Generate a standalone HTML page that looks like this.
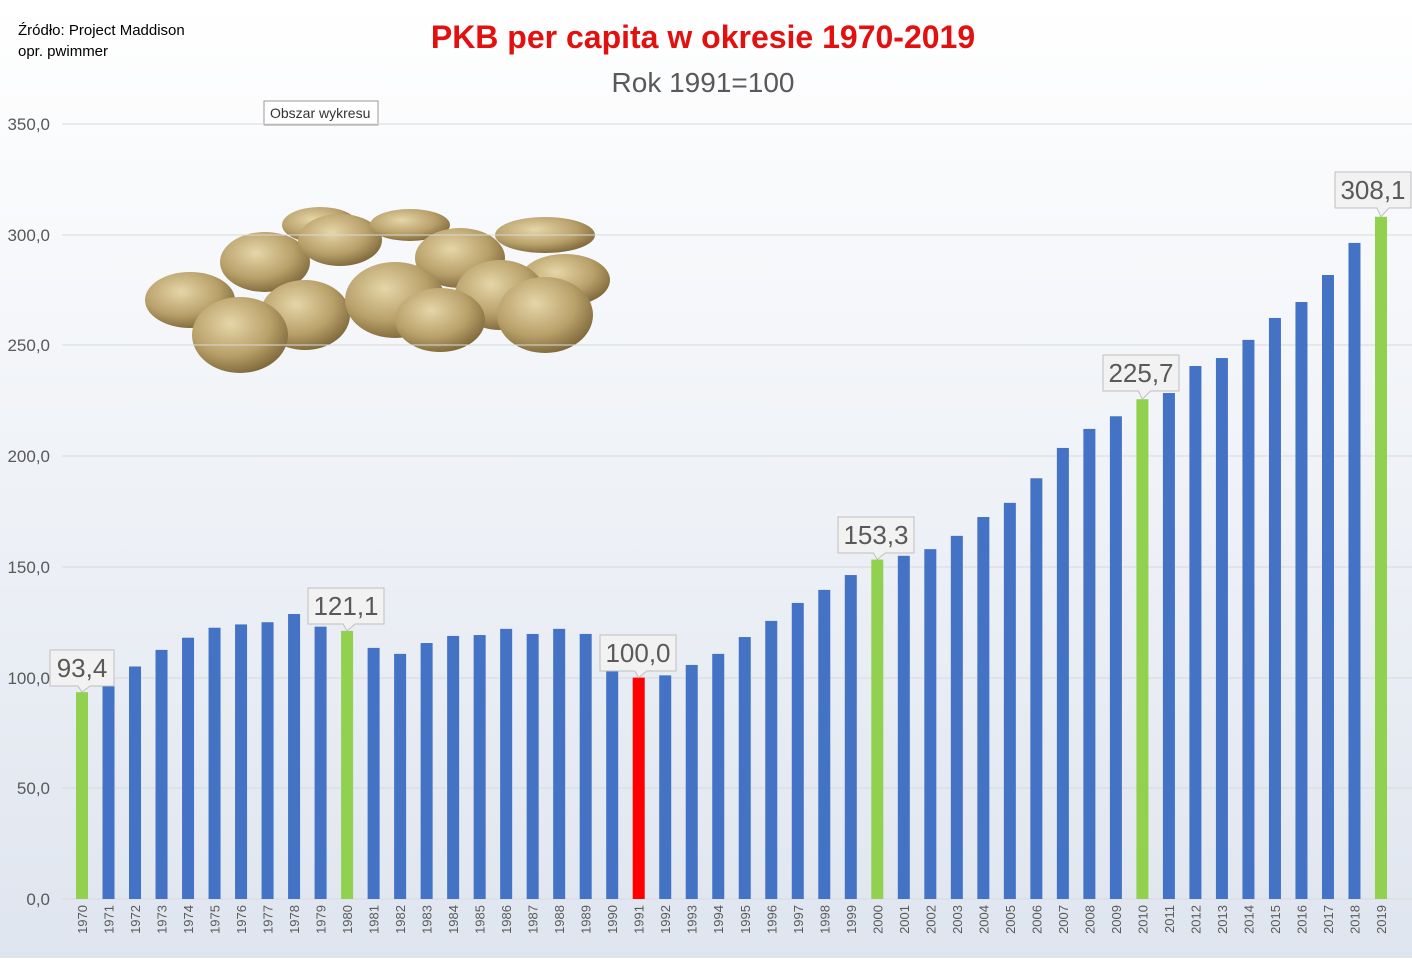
<!DOCTYPE html>
<html><head><meta charset="utf-8"><style>
body{margin:0;width:1412px;height:958px;overflow:hidden;font-family:"Liberation Sans",sans-serif;}
</style></head><body>
<svg width="1412" height="958" xmlns="http://www.w3.org/2000/svg">
<defs>
<linearGradient id="bg" x1="0" y1="0" x2="0" y2="1">
<stop offset="0" stop-color="#ffffff"/><stop offset="1" stop-color="#dfe5ef"/></linearGradient>
<radialGradient id="coin" cx="0.4" cy="0.35" r="0.7">
<stop offset="0" stop-color="#e6d6a8"/><stop offset="0.6" stop-color="#b8a06a"/><stop offset="1" stop-color="#7a6436"/></radialGradient>
</defs>
<rect width="1412" height="958" fill="url(#bg)"/>
<text x="18" y="35" font-size="15" fill="#000">Źródło: Project Maddison</text>
<text x="18" y="56" font-size="15" fill="#000">opr. pwimmer</text>
<text x="703" y="48" font-size="32" font-weight="bold" fill="#e31010" text-anchor="middle">PKB per capita w okresie 1970-2019</text>
<text x="703" y="92" font-size="28" fill="#595959" text-anchor="middle">Rok 1991=100</text>
<rect x="264" y="101" width="114" height="24" fill="#fff" stroke="#999"/>
<text x="270" y="118" font-size="14" fill="#333">Obszar wykresu</text>
<g id="coins">
<ellipse cx="190" cy="300" rx="45" ry="28" fill="url(#coin)"/>
<ellipse cx="265" cy="262" rx="45" ry="30" fill="url(#coin)"/>
<ellipse cx="320" cy="225" rx="38" ry="18" fill="url(#coin)"/>
<ellipse cx="340" cy="240" rx="42" ry="26" fill="url(#coin)"/>
<ellipse cx="410" cy="225" rx="40" ry="16" fill="url(#coin)"/>
<ellipse cx="545" cy="235" rx="50" ry="18" fill="url(#coin)"/>
<ellipse cx="460" cy="258" rx="45" ry="30" fill="url(#coin)"/>
<ellipse cx="565" cy="280" rx="45" ry="26" fill="url(#coin)"/>
<ellipse cx="305" cy="315" rx="45" ry="35" fill="url(#coin)"/>
<ellipse cx="395" cy="300" rx="50" ry="38" fill="url(#coin)"/>
<ellipse cx="500" cy="295" rx="45" ry="35" fill="url(#coin)"/>
<ellipse cx="240" cy="335" rx="48" ry="38" fill="url(#coin)"/>
<ellipse cx="440" cy="320" rx="45" ry="32" fill="url(#coin)"/>
<ellipse cx="545" cy="315" rx="48" ry="38" fill="url(#coin)"/>
</g>
<g stroke="#d9d9d9" stroke-width="1">
<line x1="62" x2="1412" y1="124" y2="124"/><line x1="62" x2="1412" y1="235" y2="235"/>
<line x1="62" x2="1412" y1="345" y2="345"/><line x1="62" x2="1412" y1="456" y2="456"/>
<line x1="62" x2="1412" y1="567" y2="567"/><line x1="62" x2="1412" y1="678" y2="678"/>
<line x1="62" x2="1412" y1="788" y2="788"/><line x1="62" x2="1412" y1="899" y2="899"/>
</g>
<g font-size="17" fill="#595959" text-anchor="end">
<text x="50" y="130">350,0</text><text x="50" y="241">300,0</text><text x="50" y="351">250,0</text>
<text x="50" y="462">200,0</text><text x="50" y="573">150,0</text><text x="50" y="684">100,0</text>
<text x="50" y="794">50,0</text><text x="50" y="905">0,0</text>
</g>
<g id="bars"></g>
<g id="labels"></g>
</svg>
<script>
var v=[93.4,99,105,112.5,118,122.5,124,125,128.7,123,121.1,113.4,110.7,115.6,118.8,119.2,122,119.7,122,119.7,104,100,101,105.7,110.7,118.3,125.6,133.7,139.6,146.3,153.3,155,158,164,172.5,178.9,190,203.7,212.3,218,225.7,228.5,240.7,244.3,252.5,262.4,269.6,281.8,296.3,308.1];
var G=[1970,1980,2000,2010,2019];
var ns="http://www.w3.org/2000/svg",b=document.getElementById("bars"),l=document.getElementById("labels");
function el(t,a,p){var e=document.createElementNS(ns,t);for(var k in a)e.setAttribute(k,a[k]);p.appendChild(e);return e;}
for(var i=0;i<50;i++){
 var y=1970+i,x=82+i*26.51,h=v[i]*2.2143;
 var c=(y==1991)?"#ff0000":(G.indexOf(y)>=0)?"#92d050":"#4472c4";
 el("rect",{x:x-6,y:899-h,width:12,height:h,fill:c},b);
 var t=el("text",{x:0,y:0,"font-size":13,fill:"#595959","text-anchor":"end",transform:"translate("+(x+5)+",905) rotate(-90)"},b);
 t.textContent=y;
}
var L=[[0,"93,4",50,650],[10,"121,1",308,588],[21,"100,0",600,635],[30,"153,3",838,517],[40,"225,7",1103,355],[49,"308,1",1335,172]];
L.forEach(function(q){
 var x=82+q[0]*26.51,top=899-v[q[0]]*2.2143,bx=q[2],by=q[3],w=q[1].length>4?76:64,hh=36;
 var px=Math.min(Math.max(x,bx+10),bx+w-10);
 el("path",{d:"M"+bx+","+by+"h"+w+"v"+hh+"H"+(px+8)+"L"+x+","+(top)+"L"+(px-4)+","+(by+hh)+"H"+bx+"z",fill:"#f2f2f2",stroke:"#bfbfbf"},l);
 var t=el("text",{x:bx+w/2,y:by+27,"font-size":26,fill:"#595959","text-anchor":"middle"},l);t.textContent=q[1];
});
</script>
</body></html>
